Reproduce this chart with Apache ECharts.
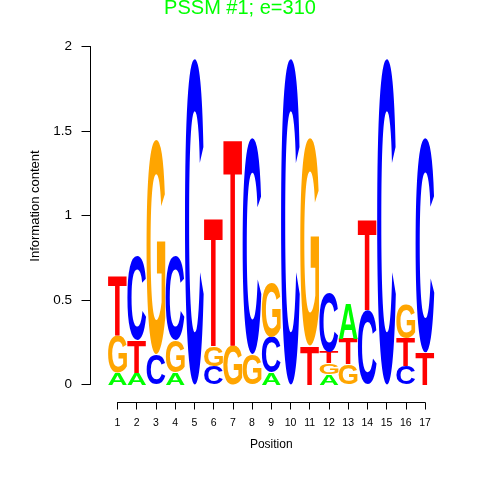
<!DOCTYPE html>
<html>
<head>
<meta charset="utf-8">
<script src="https://cdn.jsdelivr.net/npm/echarts@6/dist/echarts.min.js"></script>
<style>
  html, body { margin: 0; padding: 0; background: #fff; }
  #chart { width: 480px; height: 480px; }
</style>
</head>
<body>
<div id="chart"></div>
<script>
// information content (bits) of each base, by position
var positions = [1, 2, 3, 4, 5, 6, 7, 8, 9, 10, 11, 12, 13, 14, 15, 16, 17]
var bitsA = [0.07, 0.07, 0, 0.07, 0, 0, 0, 0, 0.07, 0, 0, 0.06, 0.21, 0, 0, 0, 0]
var bitsC = [0, 0.50, 0.18, 0.50, 1.93, 0.11, 0, 1.28, 0.21, 1.93, 0, 0.35, 0, 0.44, 1.93, 0.11, 1.27]
var bitsG = [0.22, 0, 1.27, 0.19, 0, 0.12, 0.23, 0.18, 0.32, 0, 1.23, 0.065, 0.12, 0, 0, 0.205, 0]
var bitsT = [0.35, 0.19, 0, 0, 0, 0.76, 1.23, 0, 0, 0, 0.23, 0.07, 0.15, 0.54, 0, 0.165, 0.19]
var yTicks = [0, 0.5, 1, 1.5, 2]

var letters = ['A', 'C', 'G', 'T']
var letterColors = { A: '#00ff00', C: '#0000ff', G: '#ffa500', T: '#ff0000' }
var LETTER_FONT = 'bold 100px "Liberation Sans"'

// stack letters per position, smallest at the bottom
var stackData = []
positions.forEach(function(pos, i) {
  var col = [bitsA[i], bitsC[i], bitsG[i], bitsT[i]]
    .map(function(v, k) { return { k: k, v: v } })
    .filter(function(d) { return d.v > 0 })
    .sort(function(a, b) { return a.v - b.v })
  var base = 0
  col.forEach(function(d) {
    stackData.push([pos, base, base + d.v, d.k])
    base += d.v
  })
})

// glyph bounds relative to a centre/middle anchor, so letters can be stretched to fill their box
var measureCtx = document.createElement('canvas').getContext('2d')
var glyphCache = {}
function glyphBox(letter) {
  if (!glyphCache[letter]) {
    measureCtx.font = LETTER_FONT
    measureCtx.textAlign = 'center'
    measureCtx.textBaseline = 'middle'
    var m = measureCtx.measureText(letter)
    glyphCache[letter] = {
      left: m.actualBoundingBoxLeft,
      right: m.actualBoundingBoxRight,
      asc: m.actualBoundingBoxAscent,
      desc: m.actualBoundingBoxDescent
    }
  }
  return glyphCache[letter]
}

function renderLetter(params, api) {
  var pos = api.value(0)
  var letter = letters[api.value(3)]
  var bl = api.coord([pos - 0.49, api.value(1)])
  var tr = api.coord([pos + 0.49, api.value(2)])
  var w = tr[0] - bl[0]
  var h = bl[1] - tr[1]
  var g = glyphBox(letter)
  var sx = w / (g.left + g.right)
  var sy = h / (g.asc + g.desc)
  return {
    type: 'text',
    x: bl[0] + g.left * sx,
    y: tr[1] + g.asc * sy,
    scaleX: sx,
    scaleY: sy,
    style: {
      text: letter,
      font: LETTER_FONT,
      fill: letterColors[letter],
      align: 'center',
      verticalAlign: 'middle'
    }
  }
}

var chart = echarts.init(document.getElementById('chart'), null, { renderer: 'canvas' })
var axisFont = 'Liberation Sans'

chart.setOption({
  animation: false,
  title: {
    text: 'PSSM #1; e=310',
    left: 'center',
    top: -2,
    padding: 0,
    textStyle: { color: '#00ff00', fontSize: 20, fontWeight: 'normal', fontFamily: axisFont }
  },
  graphic: [{
    type: 'text',
    x: 35,
    y: 206,
    rotation: Math.PI / 2,
    style: {
      text: 'Information content',
      font: '13px "Liberation Sans"',
      fill: '#000',
      align: 'center',
      verticalAlign: 'middle'
    }
  }],
  grid: [
    // logo area: x from 0.5 to 17.5, y from 0 to 2
    { left: 107.9, right: 45.4, top: 46.5, bottom: 95.5 },
    // strip for the position axis, spanning ticks 1..17 only
    { left: 117.5, right: 55, top: 390, bottom: 77.5 }
  ],
  xAxis: [
    { gridIndex: 0, type: 'value', min: 0.5, max: 17.5, show: false },
    {
      gridIndex: 1,
      type: 'value',
      min: 1,
      max: 17,
      interval: 1,
      name: 'Position',
      nameLocation: 'middle',
      nameGap: 36,
      nameTextStyle: { color: '#000', fontSize: 12, fontFamily: axisFont },
      axisLine: { lineStyle: { color: '#000', width: 1 } },
      axisTick: { length: 7, lineStyle: { color: '#000' } },
      axisLabel: { color: '#000', fontSize: 10.5, fontFamily: axisFont, margin: 15 },
      splitLine: { show: false }
    }
  ],
  yAxis: [
    {
      gridIndex: 0,
      type: 'value',
      min: 0,
      max: 2,
      interval: 0.5,
      offset: 17.4,
      axisLine: { show: true, lineStyle: { color: '#000', width: 1 } },
      axisTick: { show: true, length: 9, lineStyle: { color: '#000' } },
      axisLabel: {
        color: '#000', fontSize: 13.5, fontFamily: axisFont, margin: 18.5,
        formatter: function(v) { return yTicks.indexOf(v) >= 0 ? String(v) : '' }
      },
      splitLine: { show: false }
    },
    { gridIndex: 1, type: 'value', show: false }
  ],
  series: [{
    type: 'custom',
    xAxisIndex: 0,
    yAxisIndex: 0,
    silent: true,
    clip: false,
    renderItem: renderLetter,
    encode: { x: 0, y: [1, 2] },
    data: stackData
  }]
})
</script>
</body>
</html>
